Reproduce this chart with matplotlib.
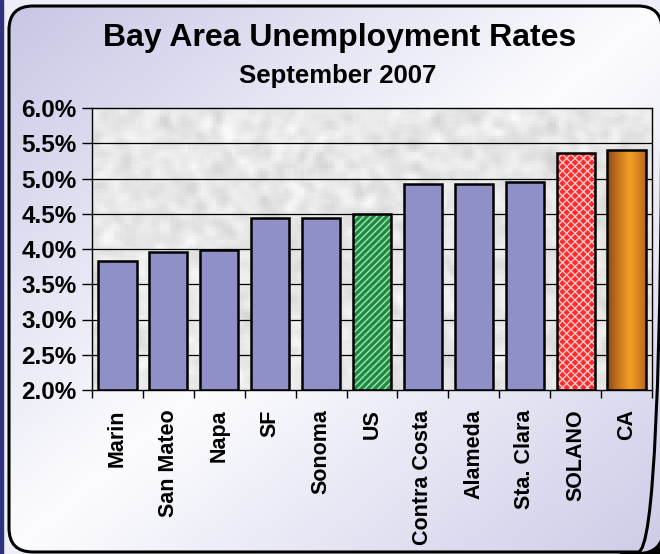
import numpy as np
import matplotlib
matplotlib.use("Agg")
import matplotlib.pyplot as plt
from matplotlib.patches import FancyBboxPatch, Rectangle

plt.rcParams["font.family"] = ["Liberation Sans", "DejaVu Sans"]
plt.rcParams["font.weight"] = "bold"

# datos
categorias = ["Marin", "San Mateo", "Napa", "SF", "Sonoma", "US",
              "Contra Costa", "Alameda", "Sta. Clara", "SOLANO", "CA"]
tasas = [3.83, 3.96, 3.98, 4.44, 4.44, 4.50, 4.92, 4.92, 4.95, 5.36, 5.41]
yticks = [2.0, 2.5, 3.0, 3.5, 4.0, 4.5, 5.0, 5.5, 6.0]
titulo = "Bay Area Unemployment Rates"
subtitulo = "September 2007"

W, H = 660, 554
fig = plt.figure(figsize=(W / 100, H / 100), dpi=100)
fig.patch.set_facecolor("#eeeef8")

# fondo: caja redondeada con degradado
bg = fig.add_axes([0, 0, 1, 1])
bg.set_xlim(0, W)
bg.set_ylim(H, 0)
bg.axis("off")
bg.add_patch(Rectangle((0, 0), 2.5, H, color="#303080", zorder=0))
bg.add_patch(Rectangle((W - 40, H - 40), 40, 40, color="black", zorder=0))
caja = FancyBboxPatch((9, 6), W - 9 + 2, H - 8, boxstyle="round,pad=0,rounding_size=24",
                      facecolor="none", edgecolor="black", lw=2.2, zorder=3)
bg.add_patch(caja)
yy, xx = np.mgrid[0:1:200j, 0:1:200j]
d = (xx + yy) / 2
c1 = np.array([0.78, 0.78, 0.90])
c2 = np.array([0.99, 0.99, 1.0])
c3 = np.array([0.80, 0.80, 0.91])
t = np.clip(d, 0, 1)[..., None]
grad = np.where(t < 0.5, c1 + (c2 - c1) * (t / 0.5), c2 + (c3 - c2) * ((t - 0.5) / 0.5))
im = bg.imshow(grad, extent=(9, W + 2, H - 2, 6), aspect="auto", zorder=1)
clip = FancyBboxPatch((9, 6), W - 9 + 2, H - 8, boxstyle="round,pad=0,rounding_size=24",
                      transform=bg.transData, facecolor="none", edgecolor="none")
im.set_clip_path(clip)

fig.text(340 / W, 1 - 38 / H, titulo, ha="center", va="center", fontsize=23, fontweight="bold")
fig.text(338 / W, 1 - 76 / H, subtitulo, ha="center", va="center", fontsize=18.5, fontweight="bold")

ax = fig.add_axes([92 / W, 1 - 390 / H, (652 - 92) / W, (390 - 108) / H])
x = np.arange(len(categorias))
ax.set_xlim(-0.5, len(categorias) - 0.5)
ax.set_ylim(2.0, 6.0)

# textura granito del area de trazado
rng = np.random.default_rng(3)
ruido = rng.normal(size=(90, 180))
k = np.ones(3) / 3
for _ in range(2):
    ruido = np.apply_along_axis(lambda r: np.convolve(r, k, mode="same"), 1, ruido)
    ruido = np.apply_along_axis(lambda r: np.convolve(r, k, mode="same"), 0, ruido)
ruido = (ruido - ruido.min()) / (ruido.max() - ruido.min())
tex = 0.82 + 0.17 * ruido
ax.imshow(np.dstack([tex, tex, tex]), extent=(-0.5, len(categorias) - 0.5, 2.0, 6.0),
          aspect="auto", zorder=0)

for yv in yticks[1:-1]:
    ax.axhline(yv, color="black", lw=0.9, zorder=1)

ancho = 0.75
base = 2.0
for i, v in enumerate(tasas):
    alto = v - base
    if categorias[i] == "US":
        ax.bar(i, alto, ancho, bottom=base, color="#1e8a48", edgecolor="#a8e6a8",
               hatch="/////", lw=0, zorder=2)
        ax.bar(i, alto, ancho, bottom=base, facecolor="none", edgecolor="black", lw=1.8, zorder=3)
    elif categorias[i] == "SOLANO":
        ax.bar(i, alto, ancho, bottom=base, color="#ff2a2a", edgecolor="#ffc8c8",
               hatch="xxxx", lw=0, zorder=2)
        ax.bar(i, alto, ancho, bottom=base, facecolor="none", edgecolor="black", lw=1.8, zorder=3)
    elif categorias[i] == "CA":
        b = ax.bar(i, alto, ancho, bottom=base, facecolor="none", edgecolor="black",
                   lw=1.8, zorder=3)[0]
        s = np.linspace(0, 1, 100)
        f = np.clip(1 - np.abs(s - 0.6) / 0.6, 0, 1) ** 0.7
        oscuro = np.array([0.50, 0.22, 0.08])
        claro = np.array([0.96, 0.62, 0.15])
        fila = oscuro + (claro - oscuro) * f[:, None]
        g = ax.imshow(fila[None, :, :], extent=(i - ancho / 2, i + ancho / 2, base, v),
                      aspect="auto", zorder=2)
        g.set_clip_path(b)
    else:
        ax.bar(i, alto, ancho, bottom=base, color="#9090c8", edgecolor="black", lw=1.8, zorder=2)

ax.set_xlim(-0.5, len(categorias) - 0.5)
ax.set_ylim(2.0, 6.0)
ax.set_yticks(yticks)
ax.set_yticklabels([f"{v:.1f}%" for v in yticks], fontsize=17.5, fontweight="bold")
ax.set_xticks(x)
ax.set_xticklabels(categorias, rotation=90, fontsize=15.5, fontweight="bold", va="top")
ax.set_xticks(np.arange(-0.5, len(categorias)), minor=True)
ax.tick_params(axis="x", which="major", length=0, pad=14)
ax.tick_params(axis="x", which="minor", length=6, width=1)
ax.tick_params(axis="y", length=7, width=1, pad=4)
for sp in ax.spines.values():
    sp.set_color("black")
    sp.set_linewidth(1.0)

fig.savefig("out.png", dpi=100, facecolor=fig.get_facecolor())
